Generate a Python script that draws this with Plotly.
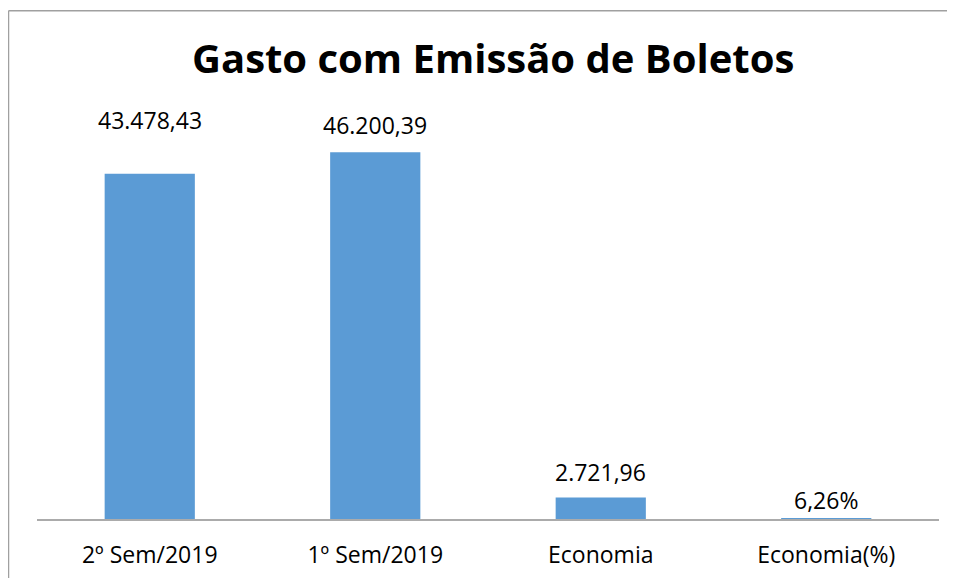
import plotly.graph_objects as go

categories = ["2º Sem/2019", "1º Sem/2019", "Economia", "Economia(%)"]
values = [43478.43, 46200.39, 2721.96, 6.26]
labels = ["43.478,43", "46.200,39", "2.721,96", "6,26%"]
label_shift = [54, 27, 25, 19]

BAR_COLOR = "#5B9BD5"
FONT = "Open Sans"

# the page body adds an 8px offset; reference pixel positions are converted below
OFF = 8
W, H = 955 - OFF, 578 - OFF
ml, mr, mt, mb = 37 - OFF, 16, 122 - OFF, 58.5
pw, ph = W - ml - mr, H - mt - mb

def px2paper_x(px):
    return (px - OFF - ml) / pw

def px2paper_y(py):
    return (H - mb - (py - OFF)) / ph

fig = go.Figure()
fig.add_trace(go.Bar(x=categories, y=values, marker=dict(color=BAR_COLOR, line=dict(width=0)),
                     hoverinfo="skip"))

for c, v, t, s in zip(categories, values, labels, label_shift):
    fig.add_annotation(x=c, y=v, text=t, showarrow=False, yanchor="middle", yshift=s,
                       font=dict(family=FONT, size=23, color="#000000"))

fig.add_annotation(xref="paper", yref="paper", x=px2paper_x(492.5), y=px2paper_y(57.5),
                   text="<b>Gasto com Emissão de Boletos</b>", showarrow=False,
                   xanchor="center", yanchor="middle",
                   font=dict(family=FONT, size=40, color="#000000"))

# chart-area border (left and top edges visible)
fig.add_shape(type="line", xref="paper", yref="paper", x0=px2paper_x(8.5), x1=px2paper_x(8.5),
              y0=px2paper_y(10.5), y1=px2paper_y(600), line=dict(color="#A0A0A0", width=1.5), layer="above")
fig.add_shape(type="line", xref="paper", yref="paper", x0=px2paper_x(8.5), x1=px2paper_x(1000),
              y0=px2paper_y(10.5), y1=px2paper_y(10.5), line=dict(color="#A0A0A0", width=1.5), layer="above")

fig.update_layout(
    width=W, height=H,
    margin=dict(l=ml, r=mr, t=mt, b=mb, pad=0),
    paper_bgcolor="white", plot_bgcolor="white",
    bargap=0.6, showlegend=False,
    xaxis=dict(showline=True, linecolor="#ABABAB", linewidth=1.5, showgrid=False, zeroline=False,
               ticks="", ticklabelstandoff=15, automargin=False,
               tickfont=dict(family=FONT, size=23, color="#000000"), fixedrange=True),
    yaxis=dict(range=[0, 50000], visible=False, showgrid=False, zeroline=False, fixedrange=True,
               automargin=False),
)

fig.write_html("out.html", config={"displayModeBar": False})
